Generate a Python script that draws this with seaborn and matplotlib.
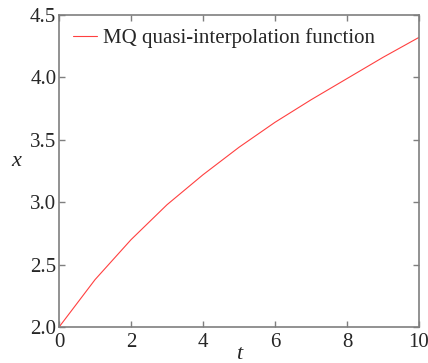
import pandas as pd
import matplotlib
matplotlib.use("Agg")
import matplotlib.pyplot as plt
import seaborn as sns

# values at integer t
t = [0, 1, 2, 3, 4, 5, 6, 7, 8, 9, 10]
x = [2.0, 2.38, 2.70, 2.98, 3.22, 3.44, 3.64, 3.82, 3.99, 4.16, 4.32]
label = "MQ quasi-interpolation function"

df = pd.DataFrame({"t": t, "x": x})

sns.set_style("ticks")
plt.rcParams["font.family"] = ["Liberation Serif", "DejaVu Serif"]

fig = plt.figure(figsize=(4.28, 3.63), dpi=100)
ax = fig.add_axes([0.138, 0.099, 0.841, 0.860])

sns.lineplot(data=df, x="t", y="x", ax=ax, color="#ff4040", linewidth=0.8, label=label)

ax.set_xlim(0, 10)
ax.set_ylim(2.0, 4.5)
ax.set_xticks([0, 2, 4, 6, 8, 10])
ax.set_yticks([2.0, 2.5, 3.0, 3.5, 4.0, 4.5])
ax.set_yticklabels(["2.0", "2.5", "3.0", "3.5", "4.0", "4.5"])

for s in ax.spines.values():
    s.set_color("#7f7f7f")
    s.set_linewidth(1.2)
ax.tick_params(direction="in", top=True, right=True, length=4, width=1,
               color="#7f7f7f", labelsize=15)
ax.tick_params(axis="y", pad=2)
ax.tick_params(axis="x", pad=4)

ax.set_xlabel("t", fontsize=16, style="italic", labelpad=-5)
ax.set_ylabel("x", fontsize=16, style="italic", rotation=0, labelpad=10)

leg = ax.legend(loc="upper left", frameon=False, fontsize=15, handlelength=1.15,
                borderaxespad=0.25, handletextpad=0.3)

fig.savefig("out.png", dpi=100)
